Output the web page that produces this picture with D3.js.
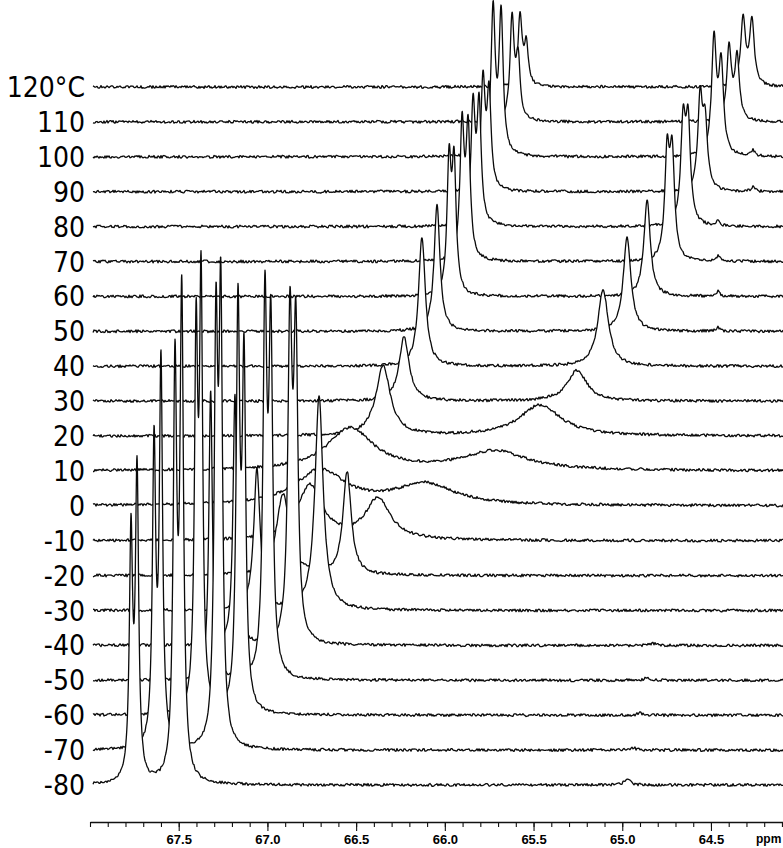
<!DOCTYPE html>
<html lang="en">
<head>
<meta charset="UTF-8">
<title>VT NMR stack</title>
<script src="https://cdn.jsdelivr.net/npm/d3@7"></script>
<style>
  body { margin: 0; background: #fff; }
  svg { display: block; }
</style>
</head>
<body>
<svg id="chart" width="783" height="848"></svg>
<script>
// temperatures of the stacked spectra, bottom (front) to top (back)
var temps = [-80, -70, -60, -50, -40, -30, -20, -10, 0, 10, 20, 30, 40, 50, 60, 70, 80, 90, 100, 110, 120];
var tempLabels = ['-80', '-70', '-60', '-50', '-40', '-30', '-20', '-10', '0', '10', '20', '30', '40', '50', '60', '70', '80', '90', '100', '110', '120°C'];

// ppm axis
var majorTicks = [67.5, 67.0, 66.5, 66.0, 65.5, 65.0, 64.5];
var axisUnit = 'ppm';

// peaks of every spectrum: [ppm, height, half width (ppm)]
var pkM80 = [[67.769, 240, 0.011], [67.735, 305, 0.011], [67.521, 402, 0.012], [67.483, 473, 0.012], [64.973, 6, 0.02]];
var pkM70 = [[67.639, 297, 0.011], [67.600, 378, 0.011], [67.290, 395, 0.012], [67.263, 428, 0.012], [64.936, 2, 0.02]];
var pkM60 = [[67.402, 360, 0.011], [67.374, 415, 0.011], [67.166, 393, 0.012], [67.132, 338, 0.012], [64.900, 2, 0.02]];
var pkM50 = [[67.320, 288, 0.012], [67.014, 363, 0.013], [66.981, 336, 0.013], [64.863, 2, 0.02]];
var pkM40 = [[67.183, 250, 0.013], [66.873, 312, 0.014], [66.840, 300, 0.014], [64.826, 2, 0.02]];
var pkM30 = [[67.059, 140, 0.022], [66.709, 213, 0.028]];
var pkM20 = [[66.912, 81, 0.045], [66.551, 103, 0.028]];
var pkM10 = [[66.760, 55, 0.085], [66.377, 41, 0.085]];
var pk0 = [[66.703, 35, 0.17], [66.112, 21, 0.2]];
var pk10 = [[66.534, 42, 0.16], [65.717, 19, 0.22]];
var pk20 = [[66.348, 69, 0.05], [65.463, 31, 0.14]];
var pk30 = [[66.230, 64, 0.034], [65.255, 31, 0.065]];
var pk40 = [[66.129, 129, 0.023], [65.108, 76, 0.036]];
var pk50 = [[66.044, 126, 0.02], [64.973, 94, 0.026], [64.460, 4, 0.012]];
var pk60 = [[65.976, 127, 0.014], [65.948, 124, 0.014], [64.860, 96, 0.022], [64.460, 5, 0.012]];
var pk70 = [[65.903, 131, 0.014], [65.869, 128, 0.014], [64.747, 101, 0.016], [64.719, 101, 0.016], [64.460, 5, 0.012]];
var pk80 = [[65.841, 117, 0.014], [65.807, 117, 0.014], [64.657, 97, 0.016], [64.629, 97, 0.016], [64.460, 5, 0.012]];
var pk90 = [[65.785, 109, 0.014], [65.751, 95, 0.014], [64.561, 89, 0.016], [64.533, 64, 0.016], [64.263, 5, 0.012]];
var pk100 = [[65.728, 145, 0.014], [65.683, 140, 0.014], [64.483, 114, 0.016], [64.443, 89, 0.016], [64.263, 6, 0.012]];
var pk110 = [[65.621, 102, 0.014], [65.587, 60, 0.014], [64.398, 72, 0.016], [64.353, 62, 0.016]];
var pk120 = [[65.576, 70, 0.014], [65.541, 40, 0.014], [64.319, 67, 0.016], [64.269, 64, 0.016]];

var peakLists = [pkM80, pkM70, pkM60, pkM50, pkM40, pkM30, pkM20, pkM10, pk0, pk10,
                 pk20, pk30, pk40, pk50, pk60, pk70, pk80, pk90, pk100, pk110, pk120];

var W = 783, H = 848;
var traceLeft = 93, traceRight = 783, axisY = 822;

var svg = d3.select('#chart');

var x = d3.scaleLinear().domain([68, 64.094]).range([90, 783]);
var base = d3.scaleLinear().domain([-80, 120]).range([785, 87]);   // baseline of each spectrum
var amp = d3.scaleLinear().domain([0, 100]).range([0, 100]);        // intensity -> pixels

// small deterministic jitter so the baselines look like recorded noise
function hash(j, k) {
  var s = Math.sin(j * 127.1 + k * 311.7) * 43758.5453;
  return s - Math.floor(s) - 0.5;
}
function noise(px, k) {
  var j = Math.floor(px), f = px - j;
  var a = hash(j, k), b = hash(j + 1, k);
  return (a + (b - a) * f) * 2.8;
}

function spectrum(peaks, k) {
  var pts = [];
  for (var px = traceLeft; px <= traceRight; px += 0.25) {
    var p = x.invert(px);
    var s = 0;
    peaks.forEach(function (pk) {
      var u = (p - pk[0]) / pk[2];
      s += pk[1] / (1 + u * u);
    });
    pts.push([px, base(temps[k]) - amp(s) + noise(px, k)]);
  }
  return pts;
}

var line = d3.line().x(function (d) { return d[0]; }).y(function (d) { return d[1]; });
var area = d3.area().x(function (d) { return d[0]; }).y0(H).y1(function (d) { return d[1]; });

// back spectra first, front spectra hide them (white fill under each trace)
var order = d3.range(temps.length).reverse();
var g = svg.append('g');
order.forEach(function (k) {
  var pts = spectrum(peakLists[k], k);
  g.append('path').attr('d', area(pts)).attr('fill', '#fff').attr('stroke', 'none');
  g.append('path').attr('d', line(pts))
    .attr('fill', 'none')
    .attr('stroke', '#0a0a0a')
    .attr('stroke-width', 1.3)
    .attr('stroke-linejoin', 'round');
});

// temperature labels
svg.append('g').selectAll('text')
  .data(temps)
  .enter().append('text')
  .attr('x', 85)
  .attr('y', function (d) { return base(d) + 10; })
  .attr('text-anchor', 'end')
  .style('font-family', '"DejaVu Sans Condensed", "Liberation Sans", Arial, sans-serif')
  .style('font-size', '28px')
  .style('fill', '#000')
  .text(function (d, i) { return tempLabels[i]; });

// ppm axis: minor ticks every 0.1, labelled ticks every 0.5
var minorTicks = d3.range(0, 40).map(function (i) { return +(68 - i * 0.1).toFixed(1); });

svg.append('g')
  .attr('transform', 'translate(0,' + axisY + ')')
  .call(d3.axisBottom(x).tickValues(minorTicks).tickSize(5).tickSizeOuter(0).tickFormat(''))
  .call(function (sel) {
    sel.select('.domain').attr('stroke', '#111').attr('stroke-width', 1.3);
    sel.selectAll('.tick line').attr('stroke', '#111').attr('stroke-width', 1.1);
  });

svg.append('g')
  .attr('transform', 'translate(0,' + axisY + ')')
  .call(d3.axisBottom(x).tickValues(majorTicks).tickSize(9).tickPadding(4).tickSizeOuter(0).tickFormat(d3.format('.1f')))
  .call(function (sel) {
    sel.select('.domain').remove();
    sel.selectAll('.tick line').attr('stroke', '#111').attr('stroke-width', 1.1);
    sel.selectAll('.tick text')
      .style('font-family', '"Liberation Sans", Arial, sans-serif')
      .style('font-size', '13px')
      .style('font-weight', 'bold')
      .style('fill', '#000');
  });

svg.append('text')
  .attr('x', 756)
  .attr('y', axisY + 21)
  .style('font-family', '"Liberation Sans", Arial, sans-serif')
  .style('font-size', '12px')
  .style('font-weight', 'bold')
  .text(axisUnit);
</script>
</body>
</html>
